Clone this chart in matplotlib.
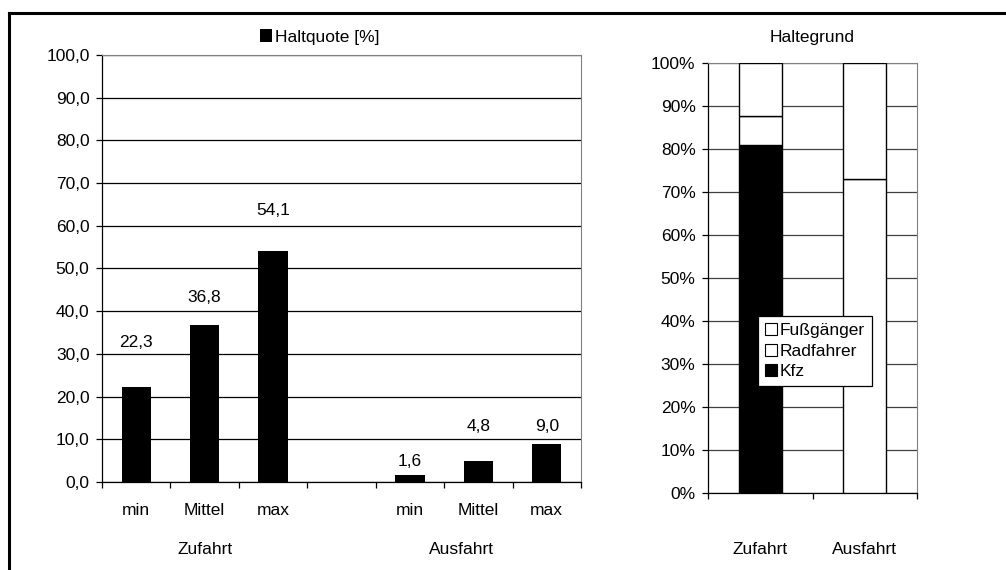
import matplotlib
matplotlib.use('Agg')
import matplotlib.pyplot as plt
from matplotlib.lines import Line2D
from matplotlib.patches import Patch
from matplotlib.ticker import FuncFormatter, MultipleLocator

plt.rcParams['font.family'] = ['Liberation Sans', 'DejaVu Sans']
plt.rcParams['font.size'] = 12.5

# Haltquote [%]
quote_labels = ['min', 'Mittel', 'max', '', 'min', 'Mittel', 'max']
quote_values = [22.3, 36.8, 54.1, None, 1.6, 4.8, 9.0]
quote_texts = ['22,3', '36,8', '54,1', '', '1,6', '4,8', '9,0']
group_labels = ['Zufahrt', 'Ausfahrt']

# Haltegrund (100 % gestapelt)
grund_cats = ['Zufahrt', 'Ausfahrt']
kfz = [80.9, 0.0]
radfahrer = [6.8, 73.0]
fussgaenger = [12.3, 27.0]

# label offsets above the bars (as in the original Excel layout)
label_offsets = [10.3, 6.5, 9.6, 0, 3.1, 8.1, 3.9]
group_pos = [1.0, 4.75]

FS = 12.5

fig = plt.figure(figsize=(10.06, 5.70), dpi=100)

# outer frame (only top and left visible)
fig.add_artist(Line2D([0.009, 0.009], [0.0, 0.977], color='black', lw=2.2,
                      transform=fig.transFigure))
fig.add_artist(Line2D([0.009, 1.0], [0.977, 0.977], color='black', lw=2.2,
                      transform=fig.transFigure))

# ---------- left chart ----------
ax1 = fig.add_axes([0.1014, 0.1544, 0.4761, 0.7491])
xs = [i for i, v in enumerate(quote_values) if v is not None]
vals = [v for v in quote_values if v is not None]
ax1.bar(xs, vals, width=0.43, color='black', zorder=3, label='Haltquote [%]')
for i, v in enumerate(quote_values):
    if v is None:
        continue
    ax1.text(i, v + label_offsets[i], quote_texts[i], ha='center', va='center',
             fontsize=FS)

ax1.set_xlim(-0.5, len(quote_labels) - 0.5)
ax1.set_ylim(0, 100)
ax1.yaxis.set_major_locator(MultipleLocator(10))
ax1.yaxis.set_major_formatter(FuncFormatter(lambda v, p: f'{v:.1f}'.replace('.', ',')))
ax1.yaxis.grid(True, color='black', lw=0.9, zorder=0)
ax1.set_axisbelow(True)
ax1.set_xticks(range(len(quote_labels)))
ax1.set_xticklabels(quote_labels)
ax1.set_xticks([i - 0.5 for i in range(len(quote_labels) + 1)], minor=True)
ax1.tick_params(axis='x', which='major', length=0, pad=15, labelsize=FS)
ax1.tick_params(axis='x', which='minor', length=4, direction='out', width=0.9)
ax1.tick_params(axis='y', length=4, direction='out', width=0.9, pad=5, labelsize=FS)
for s in ['top', 'right']:
    ax1.spines[s].set_color('#808080')
for s in ['left', 'bottom']:
    ax1.spines[s].set_linewidth(0.9)
for g, x in zip(group_labels, group_pos):
    ax1.text(x, -0.158, g, transform=ax1.get_xaxis_transform(), ha='center',
             va='center', fontsize=FS)
ax1.legend(loc='center', bbox_to_anchor=(0.318, 0.935), bbox_transform=fig.transFigure,
           frameon=False, handlelength=0.7, handleheight=0.7, handletextpad=0.15,
           fontsize=FS)

# ---------- right chart ----------
ax2 = fig.add_axes([0.7038, 0.1351, 0.2078, 0.7544])
pos = range(len(grund_cats))
bottom2 = [a + b for a, b in zip(kfz, radfahrer)]
ax2.bar(pos, kfz, width=0.41, color='black', edgecolor='black', lw=1, zorder=3,
        label='Kfz')
ax2.bar(pos, radfahrer, bottom=kfz, width=0.41, color='white', edgecolor='black',
        lw=1, zorder=3, label='Radfahrer')
ax2.bar(pos, fussgaenger, bottom=bottom2, width=0.41, color='white',
        edgecolor='black', lw=1, zorder=3, label='Fußgänger')
ax2.set_xlim(-0.5, len(grund_cats) - 0.5)
ax2.set_ylim(0, 100)
ax2.yaxis.set_major_locator(MultipleLocator(10))
ax2.yaxis.set_major_formatter(FuncFormatter(lambda v, p: f'{v:.0f}%'))
ax2.yaxis.grid(True, color='#404040', lw=0.9, zorder=0)
ax2.set_axisbelow(True)
ax2.set_xticks(list(pos))
ax2.set_xticklabels(grund_cats)
ax2.set_xticks([i - 0.5 for i in range(len(grund_cats) + 1)], minor=True)
ax2.tick_params(axis='x', which='major', length=0, pad=35, labelsize=FS)
ax2.tick_params(axis='x', which='minor', length=4, direction='out', width=0.9)
ax2.tick_params(axis='y', length=4, direction='out', width=0.9, pad=5, labelsize=FS)
for s in ['top', 'right']:
    ax2.spines[s].set_color('#808080')
for s in ['left', 'bottom']:
    ax2.spines[s].set_linewidth(0.9)
ax2.text(0.5, 1.06, 'Haltegrund', transform=ax2.transAxes, ha='center',
         va='center', fontsize=FS)

handles = [Patch(facecolor='white', edgecolor='black', lw=0.8),
           Patch(facecolor='white', edgecolor='black', lw=0.8),
           Patch(facecolor='black', edgecolor='black', lw=0.8)]
leg = ax2.legend(handles, ['Fußgänger', 'Radfahrer', 'Kfz'], loc='center',
                 bbox_to_anchor=(0.810, 0.384), bbox_transform=fig.transFigure,
                 fancybox=False, framealpha=1, edgecolor='black',
                 handlelength=0.7, handleheight=0.7, handletextpad=0.15,
                 labelspacing=0.3, borderpad=0.4, borderaxespad=0,
                 fontsize=FS)
leg.get_frame().set_linewidth(0.9)
leg.set_zorder(5)

fig.savefig('out.png', dpi=100)
